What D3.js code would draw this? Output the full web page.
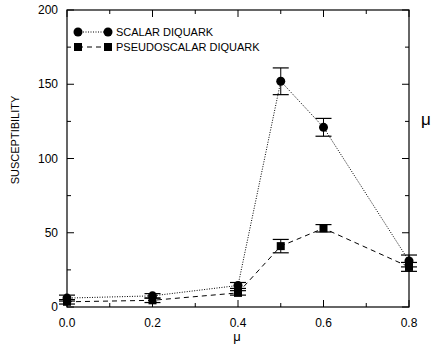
<!DOCTYPE html>
<html>
<head>
<meta charset="utf-8">
<script src="https://cdn.jsdelivr.net/npm/d3@7"></script>
<style>
  body { margin: 0; background: #fff; }
  text { font-family: "Liberation Sans", Arial, sans-serif; fill: #000; }
</style>
</head>
<body>
<svg id="chart" width="433" height="349"></svg>
<script>
// data
let mu = [0.0, 0.2, 0.4, 0.5, 0.6, 0.8];
let scalar = [6, 7.5, 14.5, 152, 121, 31];
let scalarErr = [2, 1.5, 2, 9, 6, 4];
let pseudo = [3.5, 4.5, 9.5, 41, 53, 27];
let pseudoErr = [1.5, 1.5, 1.5, 4.5, 2.5, 3];
let xTicks = [0.0, 0.2, 0.4, 0.6, 0.8];
let xMinor = [0.1, 0.3, 0.5, 0.7];
let yTicks = [0, 50, 100, 150, 200];
let yMinor = [25, 75, 125, 175];

let margin = {top: 10, right: 24, bottom: 42, left: 67},
    width = 409 - margin.left,
    height = 307 - margin.top;

let svg = d3.select("#chart");
let g = svg.append("g").attr("transform", `translate(${margin.left},${margin.top})`);

let x = d3.scaleLinear().domain([0, 0.8]).range([0, width]);
let y = d3.scaleLinear().domain([0, 200]).range([height, 0]);

// frame
g.append("rect")
    .attr("width", width).attr("height", height)
    .attr("fill", "none").attr("stroke", "#000").attr("stroke-width", 1.2);

// ticks, all pointing inward
function ticks(vals, len, horiz) {
    vals.forEach(function(v) {
        if (horiz) {
            g.append("line").attr("x1", x(v)).attr("x2", x(v)).attr("y1", height).attr("y2", height - len).attr("stroke", "#000");
            g.append("line").attr("x1", x(v)).attr("x2", x(v)).attr("y1", 0).attr("y2", len).attr("stroke", "#000");
        } else {
            g.append("line").attr("y1", y(v)).attr("y2", y(v)).attr("x1", 0).attr("x2", len).attr("stroke", "#000");
            g.append("line").attr("y1", y(v)).attr("y2", y(v)).attr("x1", width).attr("x2", width - len).attr("stroke", "#000");
        }
    });
}
ticks(xTicks, 7, true);
ticks(xMinor, 4, true);
ticks(yTicks, 7, false);
ticks(yMinor, 4, false);

// tick labels
g.selectAll(".xl").data(xTicks).enter().append("text")
    .attr("x", d => x(d)).attr("y", height + 20)
    .attr("text-anchor", "middle").style("font-size", "12px")
    .text(d => d.toFixed(1));
g.selectAll(".yl").data(yTicks).enter().append("text")
    .attr("x", -9).attr("y", d => y(d) + 4)
    .attr("text-anchor", "end").style("font-size", "12px")
    .text(d => d);

// axis titles
svg.append("text").attr("x", 237).attr("y", 341)
    .attr("text-anchor", "middle").style("font-size", "13px").text("μ");
svg.append("text").attr("transform", "translate(19,140) rotate(-90)")
    .attr("text-anchor", "middle").style("font-size", "11px").text("SUSCEPTIBILITY");
svg.append("text").attr("x", 421).attr("y", 125)
    .style("font-size", "17px").text("μ");

function series(vals, errs, dash, shape) {
    let pts = mu.map((m, i) => ({m: m, v: vals[i], e: errs[i]}));
    let line = d3.line().x(d => x(d.m)).y(d => y(d.v));
    g.append("path").datum(pts).attr("d", line)
        .attr("fill", "none").attr("stroke", "#000").attr("stroke-width", 1)
        .attr("stroke-dasharray", dash);
    pts.forEach(function(d) {
        let cx = x(d.m), cap = 8;
        g.append("line").attr("x1", cx).attr("x2", cx).attr("y1", y(d.v - d.e)).attr("y2", y(d.v + d.e)).attr("stroke", "#000");
        g.append("line").attr("x1", cx - cap).attr("x2", cx + cap).attr("y1", y(d.v - d.e)).attr("y2", y(d.v - d.e)).attr("stroke", "#000").attr("stroke-width", 1.2);
        g.append("line").attr("x1", cx - cap).attr("x2", cx + cap).attr("y1", y(d.v + d.e)).attr("y2", y(d.v + d.e)).attr("stroke", "#000").attr("stroke-width", 1.2);
        marker(g, cx, y(d.v), shape);
    });
}

function marker(sel, cx, cy, shape) {
    if (shape == "circle") {
        sel.append("circle").attr("cx", cx).attr("cy", cy).attr("r", 4.5).attr("fill", "#000");
    } else {
        sel.append("rect").attr("x", cx - 4).attr("y", cy - 4).attr("width", 8).attr("height", 8).attr("fill", "#000");
    }
}

series(scalar, scalarErr, "1,1.5", "circle");
series(pseudo, pseudoErr, "5,4", "square");

// legend
let legend = [
    {name: "SCALAR DIQUARK", dash: "1,1.5", shape: "circle", y: 32},
    {name: "PSEUDOSCALAR DIQUARK", dash: "5,4", shape: "square", y: 47}
];
legend.forEach(function(l) {
    svg.append("line").attr("x1", 78).attr("x2", 108).attr("y1", l.y).attr("y2", l.y)
        .attr("stroke", "#000").attr("stroke-dasharray", l.dash);
    marker(svg, 78, l.y, l.shape);
    marker(svg, 108, l.y, l.shape);
    svg.append("text").attr("x", 116).attr("y", l.y + 4).style("font-size", "11px").text(l.name);
});
</script>
</body>
</html>
